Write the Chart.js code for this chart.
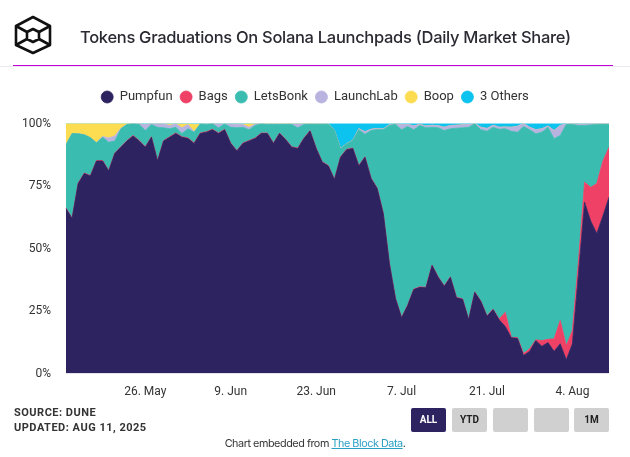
<!DOCTYPE html>
<html>
<head>
<meta charset="utf-8">
<script src="https://cdn.jsdelivr.net/npm/chart.js@4"></script>
<style>
  html, body { margin: 0; padding: 0; background: #fff; }
  body { width: 630px; height: 457px; position: relative; overflow: hidden; font-family: Roboto, sans-serif; }
  canvas { position: absolute; left: 0; top: 0; }
  .logo { position: absolute; left: 13px; top: 15px; }
  .title { position: absolute; left: 80px; top: 27px; font: 500 16.5px Inter, sans-serif; letter-spacing: -0.3px; color: #2a2a32; white-space: nowrap; }
  .rule-faint { position: absolute; left: 0; width: 630px; top: 66px; height: 1px; background: #ece8f2; }
  .rule { position: absolute; left: 13px; width: 600px; top: 65px; height: 1px; background: #c400d8; }
  .source { position: absolute; left: 14px; top: 406px; font: 700 11px/14.5px Roboto, sans-serif; letter-spacing: 0.5px; color: #333; }
  .btn { position: absolute; top: 408px; width: 35px; height: 24px; border-radius: 2px; background: #d0d0d0; color: #222; font: 700 10px/24px Roboto, sans-serif; text-align: center; }
  .btn.active { background: #2c2360; color: #fff; }
  .embed { position: absolute; left: 0; width: 630px; top: 437px; text-align: center; font: 10.8px Inter, sans-serif; letter-spacing: -0.45px; color: #333; }
  .embed a { color: #2a9fc4; text-decoration: underline; }
</style>
</head>
<body>
<canvas id="chart" width="630" height="457"></canvas>
<svg class="logo" width="40" height="40" viewBox="0 0 40 40" fill="none" stroke="#111" stroke-width="2.6" stroke-linejoin="round">
  <path d="M20 2 L37 11 V30 L20 38 L3 30 V11 Z"/>
  <path d="M20 14 L26 17 V24 L20 27 L14 24 V17 Z"/>
  <path d="M3 11 L14 17 M37 11 L26 17 M3 30 L14 24 M37 30 L26 24"/>
</svg>
<div class="title">Tokens Graduations On Solana Launchpads (Daily Market Share)</div>
<div class="rule-faint"></div>
<div class="rule"></div>
<div class="source">SOURCE: DUNE<br>UPDATED: AUG 11, 2025</div>
<div class="btn active" style="left:411px">ALL</div>
<div class="btn" style="left:452px">YTD</div>
<div class="btn" style="left:493px"></div>
<div class="btn" style="left:534px"></div>
<div class="btn" style="left:574px">1M</div>
<div class="embed">Chart embedded from <a href="#">The Block Data</a>.</div>

<script>
const days = [
  '13. May','14. May','15. May','16. May','17. May','18. May','19. May','20. May','21. May','22. May',
  '23. May','24. May','25. May','26. May','27. May','28. May','29. May','30. May','31. May','1. Jun',
  '2. Jun','3. Jun','4. Jun','5. Jun','6. Jun','7. Jun','8. Jun','9. Jun','10. Jun','11. Jun',
  '12. Jun','13. Jun','14. Jun','15. Jun','16. Jun','17. Jun','18. Jun','19. Jun','20. Jun','21. Jun',
  '22. Jun','23. Jun','24. Jun','25. Jun','26. Jun','27. Jun','28. Jun','29. Jun','30. Jun','1. Jul',
  '2. Jul','3. Jul','4. Jul','5. Jul','6. Jul','7. Jul','8. Jul','9. Jul','10. Jul','11. Jul',
  '12. Jul','13. Jul','14. Jul','15. Jul','16. Jul','17. Jul','18. Jul','19. Jul','20. Jul','21. Jul',
  '22. Jul','23. Jul','24. Jul','25. Jul','26. Jul','27. Jul','28. Jul','29. Jul','30. Jul','31. Jul',
  '1. Aug','2. Aug','3. Aug','4. Aug','5. Aug','6. Aug','7. Aug','8. Aug','9. Aug','10. Aug'
];
const xTickLabels = ['26. May','9. Jun','23. Jun','7. Jul','21. Jul','4. Aug'];

const pumpfun = [
  66,62,76,80,79,85,85,81,88,90.5,
  93,95,93,90.5,94.5,85,93,94.5,96,94.5,
  94,92,96,96.5,97.5,96,97.5,92,89,92,
  93,94,96,96,92,96,93.5,90.5,90,94,
  97,90,84.5,83,77.5,86.5,89.5,90,83,86.5,
  78,74,64,44,30,22.3,27.2,33.6,34.5,34.3,
  43.2,38.5,34.9,38.5,30.3,29.7,21.5,32.5,28.8,22.9,
  25.6,21.5,18.8,14.3,14.1,7.2,8.9,13.2,10.9,12.4,
  8.9,11.9,5.5,11.9,40,68.5,61,56,63,70.5
];
const bags = [
  .2,.2,.2,.2,.2,.2,.2,.2,.2,.2,
  .2,.2,.2,.2,.2,.2,.2,.2,.2,.2,
  .2,.2,.2,.2,.2,.2,.2,.2,.2,.2,
  .2,.2,.2,.2,.2,.2,.2,.2,.2,.2,
  .2,.2,.2,.2,.2,.2,.2,.2,.2,.2,
  .2,.2,.2,.2,.2,.2,.2,.2,.2,.2,
  .2,.2,.2,.2,.2,.2,.2,.2,.2,.2,
  .2,.3,5.7,.2,.3,.8,1,.3,2.3,1.3,
  5,9.3,5.7,5.3,5,8,13.5,20,22,20
];
const letsBonk = [
  25.3,33.8,19.7,15.3,15.1,7.1,9.3,11.3,4.8,7.2,
  6.4,4.7,6.4,6.5,4.9,13.3,5.1,3.2,2.3,1.3,
  3.7,4.3,3.6,2.9,2.2,2.1,2.1,6.3,9.1,6.3,
  4.3,5,3.6,3.4,7.4,3.4,5.9,8.9,8.1,5.4,
  2.5,9.5,15,16.4,19.5,3.2,2.2,3,14.3,9,
  19,23.4,33.3,55,69.5,75,71.4,63.7,64.5,63.8,
  55.1,59.6,62.1,59.2,67.6,68.4,76.8,67.2,68.5,73.8,
  72.7,75.9,73.4,82.4,82.1,90.8,87.6,82.4,83.3,84.8,
  80,74,88.4,82.4,54.2,22.7,24.9,23.6,14.6,9.1
];
const launchLab = [
  0,0,0,0,0,0,.3,1.7,2,.2,
  .1,0,.3,2.4,.3,1.4,1.6,1.3,1.4,2.3,
  1.7,.2,0,.2,0,1.5,0,1.3,1.4,1.1,
  1,.6,.1,.2,.2,.2,.2,.2,1.5,.2,
  .1,.1,.1,.1,.1,.1,.1,.1,.4,1,
  .5,.4,.3,.3,.2,2.1,.8,1.6,.4,.7,
  .8,.8,1.3,1.3,1.2,1.2,1.1,.1,1,1.1,
  .8,.8,.7,1.6,2.4,1.2,1,1.6,1.4,.5,
  3.3,4,.3,.3,.6,.6,.5,.3,.3,.3
];
const boop = [
  8.5,4,4.1,4.5,5.7,7.7,5.2,5.8,5,1.9,
  .3,0,0,0,0,0,0,.6,0,1.5,
  .3,2.9,0,0,0,0,0,0,.1,.2,
  1.4,.1,0,.1,.1,.1,.1,.1,.1,.1,
  .1,.1,.1,.1,0,0,0,0,0,0,
  0,0,0,0,0,0,0,0,0,0,
  0,0,0,0,0,0,0,0,0,0,
  0,0,0,0,0,0,0,0,0,0,
  0,0,0,0,0,0,0,0,0,0
];
const threeOthers = [
  0,0,0,0,0,0,0,0,0,0,
  0,.1,.1,.4,.1,.1,.1,.2,.1,.2,
  .1,.4,.2,.2,.1,.2,.2,.2,.2,.2,
  .1,.1,.1,.1,.1,.1,.1,.1,.1,.1,
  .1,.1,.1,.2,2.7,10,8,6.7,2.1,3.3,
  2.3,2,2.2,.5,.1,.4,.4,.9,.4,1,
  .7,.9,1.5,.8,.7,.5,.4,0,1.5,2,
  .7,1.5,1.4,1.5,1.1,0,1.5,2.5,2.1,1,
  2.8,.8,.1,.1,.2,.2,.1,.1,.1,.1
];

const seriesNames = ['Pumpfun','Bags','LetsBonk','LaunchLab','Boop','3 Others'];
const seriesValues = [pumpfun, bags, letsBonk, launchLab, boop, threeOthers];
const seriesColors = ['#2c2360','#ef4066','#3bbcb0','#b9b3e0','#fcdc50','#0cc2ef'];

// extra room between legend and plot
const legendGap = {
  id: 'legendGap',
  beforeInit(chart) {
    const fit = chart.legend.fit;
    chart.legend.fit = function () {
      fit.call(this);
      this.height += 10;
    };
  }
};

new Chart(document.getElementById('chart'), {
  type: 'line',
  plugins: [legendGap],
  data: {
    labels: days,
    datasets: seriesNames.map((name, i) => ({
      label: name,
      data: seriesValues[i],
      backgroundColor: seriesColors[i],
      borderColor: seriesColors[i],
      borderWidth: 0.8,
      pointRadius: 0,
      tension: 0,
      fill: i === 0 ? 'origin' : '-1'
    }))
  },
  options: {
    responsive: false,
    animation: false,
    layout: { padding: { top: 83, right: 21, bottom: 55, left: 21 } },
    plugins: {
      tooltip: { enabled: false },
      legend: {
        position: 'top',
        onClick: null,
        labels: {
          usePointStyle: true,
          pointStyle: 'circle',
          pointStyleWidth: 12,
          boxHeight: 8.5,
          padding: 7.5,
          color: '#333',
          font: { family: 'Roboto', size: 13 }
        }
      }
    },
    scales: {
      x: {
        grid: { display: false },
        border: { display: false },
        ticks: {
          autoSkip: false,
          maxRotation: 0,
          padding: 3,
          color: '#333',
          font: { family: 'Roboto', size: 12 },
          callback(value) {
            const label = this.getLabelForValue(value);
            return xTickLabels.includes(label) ? label : '';
          }
        }
      },
      y: {
        stacked: true,
        min: 0,
        max: 100,
        afterFit(scale) { scale.width = 45; },
        grid: { display: false },
        border: { display: false },
        ticks: {
          stepSize: 25,
          padding: 7,
          color: '#333',
          font: { family: 'Roboto', size: 12 },
          callback: v => v + '%'
        }
      }
    }
  }
});
</script>
</body>
</html>
